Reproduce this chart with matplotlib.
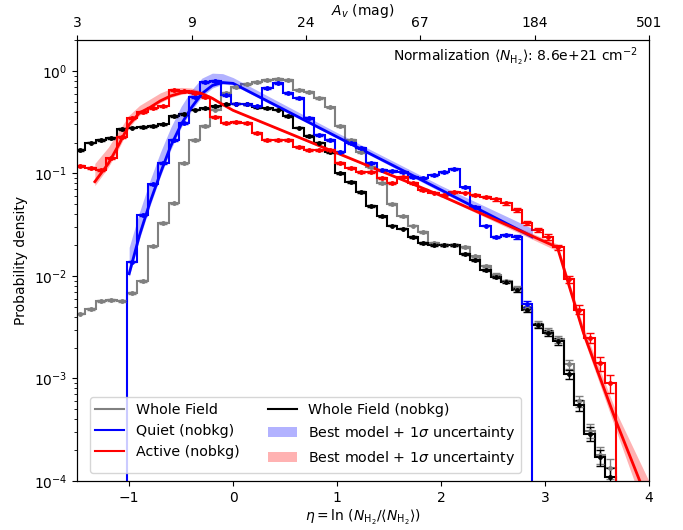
import numpy as np
import matplotlib
matplotlib.use("Agg")
import matplotlib.pyplot as plt
from matplotlib.lines import Line2D

# bin edges of eta = ln(N/<N>), 0.1 wide
edges = np.round(np.arange(-1.52, 4.0, 0.1), 2)

whole_field = [
    0.0043, 0.0048, 0.0057, 0.0058, 0.0057, 0.0068, 0.0090, 0.0194, 0.033, 0.051,
    0.125, 0.21, 0.29, 0.42, 0.61, 0.70, 0.75, 0.78, 0.82, 0.83,
    0.82, 0.65, 0.62, 0.54, 0.44, 0.29, 0.21, 0.16, 0.115, 0.080,
    0.050, 0.038, 0.031, 0.027, 0.021, 0.020, 0.020, 0.019, 0.0155, 0.0125,
    0.0103, 0.0089, 0.0076, 0.0049, 0.0034, 0.0029, 0.0024, 0.00138, 0.0006, 0.00031,
    0.00018, 0.000134, 0.00006, 0, 0]
whole_field_nobkg = [
    0.17, 0.20, 0.21, 0.22, 0.27, 0.28, 0.283, 0.29, 0.30, 0.36,
    0.38, 0.42, 0.43, 0.45, 0.47, 0.48, 0.47, 0.44, 0.43, 0.42,
    0.36, 0.28, 0.23, 0.20, 0.16, 0.10, 0.082, 0.066, 0.048, 0.038,
    0.031, 0.029, 0.024, 0.021, 0.020, 0.020, 0.020, 0.0165, 0.0143, 0.0115,
    0.0098, 0.0087, 0.0073, 0.0047, 0.0033, 0.0028, 0.0023, 0.0011, 0.00055, 0.00029,
    0.00017, 0.00011, 0.00006, 0, 0]
quiet = [
    0, 0, 0, 0, 0, 0.0138, 0.039, 0.078, 0.126, 0.21,
    0.31, 0.56, 0.78, 0.80, 0.58, 0.48, 0.47, 0.45, 0.68, 0.76,
    0.61, 0.54, 0.345, 0.237, 0.212, 0.163, 0.197, 0.176, 0.126, 0.108,
    0.106, 0.103, 0.093, 0.090, 0.097, 0.104, 0.110, 0.073, 0.047, 0.031,
    0.024, 0.025, 0.024, 0.0053, 0, 0, 0, 0, 0, 0,
    0, 0, 0, 0, 0]
active = [
    0.118, 0.112, 0.108, 0.14, 0.226, 0.345, 0.40, 0.43, 0.45, 0.65,
    0.63, 0.61, 0.56, 0.355, 0.31, 0.32, 0.31, 0.246, 0.21, 0.21,
    0.21, 0.18, 0.17, 0.17, 0.17, 0.127, 0.112, 0.104, 0.104, 0.090,
    0.080, 0.093, 0.080, 0.069, 0.065, 0.062, 0.066, 0.065, 0.062, 0.059,
    0.056, 0.051, 0.044, 0.033, 0.028, 0.024, 0.019, 0.0093, 0.0047, 0.0025,
    0.0014, 0.0009, 0, 0, 0]

# relative 1-sigma errors of the histograms
whole_field_err = [0.02] * 40 + [0.03, 0.03, 0.04, 0.05, 0.06, 0.07, 0.08, 0.1, 0.12, 0.15, 0.18, 0.22, 0.25, 0, 0]
whole_field_nobkg_err = [0.02] * 40 + [0.03, 0.03, 0.04, 0.05, 0.06, 0.07, 0.08, 0.1, 0.12, 0.15, 0.18, 0.22, 0.25, 0, 0]
quiet_err = [0.02] * 40 + [0.03, 0.03, 0.04, 0.07] + [0] * 11
active_err = [0.02] * 40 + [0.03, 0.03, 0.04, 0.05, 0.05, 0.06, 0.06, 0.08, 0.10, 0.12, 0.15, 0.2, 0, 0, 0]

# best models with 1 sigma bands
quiet_model_eta = [-1.0, -0.9, -0.8, -0.7, -0.6, -0.5, -0.4, -0.3, -0.2, -0.1, 0.0, 1.0, 2.0, 2.88]
quiet_model = [0.0105, 0.025, 0.052, 0.10, 0.185, 0.30, 0.44, 0.60, 0.72, 0.77, 0.755, 0.227, 0.069, 0.0241]
quiet_lo = [0.0098, 0.023, 0.048, 0.093, 0.17, 0.28, 0.41, 0.56, 0.68, 0.74, 0.73, 0.22, 0.066, 0.023]
quiet_hi = [0.019, 0.042, 0.085, 0.16, 0.28, 0.45, 0.65, 0.85, 0.95, 0.94, 0.86, 0.25, 0.076, 0.029]

active_model_eta = [-1.33, -1.2, -1.1, -1.0, -0.9, -0.8, -0.7, -0.6, -0.5, -0.4, -0.3, -0.2, -0.1,
                    0.0, 1.0, 2.0, 3.12, 3.37, 3.69, 4.0]
active_model = [0.083, 0.125, 0.19, 0.30, 0.39, 0.44, 0.51, 0.57, 0.61, 0.63, 0.60, 0.54, 0.47,
                0.412, 0.158, 0.0607, 0.019, 0.0028, 0.00037, 0.00006]
active_lo = [0.076, 0.115, 0.175, 0.28, 0.37, 0.42, 0.49, 0.55, 0.59, 0.61, 0.58, 0.525, 0.46,
             0.405, 0.155, 0.0595, 0.0175, 0.0025, 0.00030, 0.00004]
active_hi = [0.125, 0.18, 0.26, 0.37, 0.46, 0.53, 0.61, 0.67, 0.69, 0.68, 0.63, 0.56, 0.48,
             0.42, 0.161, 0.062, 0.0205, 0.0032, 0.00046, 0.0001]

av_ticks = ['3', '9', '24', '67', '184', '501']


def draw_hist(ax, vals, rel_err, color):
    vals = np.array(vals)
    err = vals * np.array(rel_err)
    centers = 0.5 * (edges[:-1] + edges[1:])
    ax.stairs(vals, edges, baseline=None, color=color, lw=1.5)
    ok = vals > 0
    ax.errorbar(centers[ok], vals[ok], yerr=err[ok], fmt='o', ms=2.5, color=color,
                capsize=3, elinewidth=1)


fig = plt.figure(figsize=(6.83, 5.30), dpi=100)
ax = fig.add_axes([0.113, 0.0925, 0.837, 0.832])

draw_hist(ax, whole_field, whole_field_err, 'gray')
draw_hist(ax, whole_field_nobkg, whole_field_nobkg_err, 'black')
draw_hist(ax, quiet, quiet_err, 'blue')
draw_hist(ax, active, active_err, 'red')

band_q = ax.fill_between(quiet_model_eta, quiet_lo, quiet_hi, color='blue', alpha=0.3, lw=0)
ax.plot(quiet_model_eta, quiet_model, color='blue', lw=2)
band_a = ax.fill_between(active_model_eta, active_lo, active_hi, color='red', alpha=0.3, lw=0)
ax.plot(active_model_eta, active_model, color='red', lw=2)

ax.set_yscale('log')
ax.set_xlim(-1.5, 4)
ax.set_ylim(1e-4, 2)
ax.set_xlabel(r'$\eta = \ln\,(N_{\mathrm{H_2}}/\langle N_{\mathrm{H_2}}\rangle)$', labelpad=2)
ax.set_ylabel('Probability density')

handles = [Line2D([], [], color='gray', lw=1.5), Line2D([], [], color='blue', lw=1.5),
           Line2D([], [], color='red', lw=1.5), Line2D([], [], color='black', lw=1.5),
           band_q, band_a]
labels = ['Whole Field', 'Quiet (nobkg)', 'Active (nobkg)', 'Whole Field (nobkg)',
          r'Best model + 1$\sigma$ uncertainty', r'Best model + 1$\sigma$ uncertainty']
ax.legend(handles, labels, ncol=2, loc='lower left', bbox_to_anchor=(0.022, 0.018),
          borderaxespad=0, fontsize=10.3)

ax.text(0.98, 0.962, r'Normalization $\langle N_{\mathrm{H_2}}\rangle$: 8.6e+21 cm$^{-2}$',
        transform=ax.transAxes, ha='right', va='center')

top = ax.twiny()
top.set_xlim(ax.get_xlim())
top.set_xticks(np.linspace(-1.5, 4, 6))
top.set_xticklabels(av_ticks)
top.set_xlabel(r'$A_v$ (mag)', labelpad=1)

fig.savefig('out.png', dpi=100)
